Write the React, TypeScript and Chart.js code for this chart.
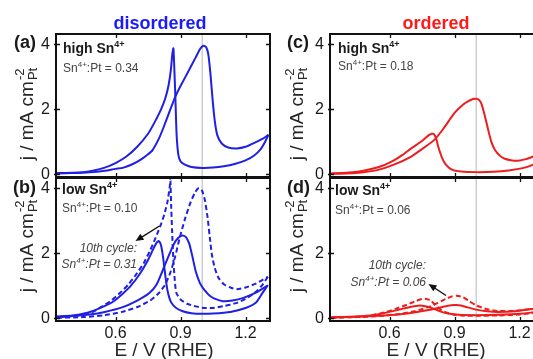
import React, { useEffect, useRef } from 'react';
import { Chart, registerables } from 'chart.js';

Chart.register(...registerables);

const FONT = 'Arial, "Liberation Sans", Helvetica, sans-serif';
const CW = 560;
const CH = 359;

// ---- axes ----
const X_MIN = 0.325;
const X_MAX = 1.313;
const Y_MIN = -0.08;
const Y_MAX = 4.32;
const xTickValues = [0.6, 0.9, 1.2];
const yTickValues = [0, 2, 4];
const refPotential = 1.0;

// ---- texts ----
const columnTitles = ['disordered', 'ordered'];
const panelLetters = ['(a)', '(b)', '(c)', '(d)'];
const panelHeadings = ['high Sn', 'low Sn', 'high Sn', 'low Sn'];
const panelRatios = ['0.34', '0.10', '0.18', '0.06'];
const cycleRatios = ['0.31', '0.06'];
const xAxisTitle = 'E / V (RHE)';

// ---- (a) disordered, high Sn ----
const aFwdE = [0.33, 0.40, 0.45, 0.50, 0.55, 0.60, 0.633, 0.68, 0.72, 0.75, 0.77, 0.80, 0.82, 0.85, 0.875, 0.90, 0.94, 0.97, 0.99, 1.005, 1.018, 1.028, 1.038, 1.048, 1.058, 1.07, 1.09, 1.12, 1.16, 1.20, 1.25, 1.28, 1.306];
const aFwdJ = [0.03, 0.04, 0.05, 0.07, 0.11, 0.17, 0.20, 0.32, 0.47, 0.62, 0.74, 1.10, 1.42, 1.95, 2.38, 2.72, 3.22, 3.60, 3.86, 3.96, 3.92, 3.70, 3.10, 2.30, 1.65, 1.20, 0.95, 0.83, 0.80, 0.85, 1.00, 1.10, 1.22];
const aRevE = [1.306, 1.29, 1.27, 1.24, 1.20, 1.15, 1.10, 1.05, 1.00, 0.95, 0.92, 0.90, 0.89, 0.882, 0.876, 0.871, 0.867, 0.862, 0.855, 0.845, 0.83, 0.81, 0.78, 0.75, 0.70, 0.65, 0.60, 0.55, 0.50, 0.45, 0.40, 0.33];
const aRevJ = [1.22, 1.00, 0.78, 0.58, 0.43, 0.32, 0.25, 0.21, 0.20, 0.23, 0.30, 0.40, 0.60, 1.20, 2.40, 3.30, 3.88, 3.70, 3.20, 2.75, 2.35, 2.00, 1.60, 1.25, 0.85, 0.55, 0.35, 0.21, 0.12, 0.07, 0.05, 0.04];

// ---- (b) disordered, low Sn (solid) and 10th cycle (dashed) ----
const bFwdE = [0.33, 0.40, 0.48, 0.55, 0.63, 0.70, 0.756, 0.79, 0.825, 0.85, 0.87, 0.89, 0.91, 0.925, 0.94, 0.955, 0.97, 0.99, 1.01, 1.035, 1.06, 1.095, 1.14, 1.19, 1.25, 1.303];
const bFwdJ = [0.05, 0.07, 0.12, 0.20, 0.34, 0.55, 0.78, 1.05, 1.60, 2.00, 2.30, 2.48, 2.55, 2.50, 2.30, 1.90, 1.45, 1.08, 0.88, 0.70, 0.60, 0.53, 0.55, 0.63, 0.80, 1.02];
const bRevE = [1.303, 1.28, 1.25, 1.20, 1.13, 1.05, 1.00, 0.95, 0.91, 0.88, 0.856, 0.84, 0.83, 0.82, 0.81, 0.80, 0.79, 0.775, 0.75, 0.71, 0.67, 0.633, 0.59, 0.556, 0.50, 0.45, 0.40, 0.33];
const bRevJ = [1.02, 0.80, 0.50, 0.32, 0.20, 0.15, 0.14, 0.16, 0.22, 0.32, 0.50, 0.85, 1.30, 1.85, 2.25, 2.38, 2.33, 2.15, 1.80, 1.35, 1.00, 0.76, 0.52, 0.40, 0.24, 0.14, 0.09, 0.06];
const bCycFwdE = [0.33, 0.45, 0.55, 0.63, 0.70, 0.76, 0.80, 0.83, 0.855, 0.875, 0.895, 0.92, 0.945, 0.965, 0.98, 0.99, 1.00, 1.012, 1.025, 1.035, 1.045, 1.058, 1.075, 1.10, 1.13, 1.16, 1.20, 1.25, 1.303];
const bCycFwdJ = [0.02, 0.04, 0.10, 0.20, 0.35, 0.55, 0.78, 1.05, 1.45, 1.90, 2.45, 3.05, 3.55, 3.85, 4.00, 4.00, 3.92, 3.65, 3.10, 2.50, 1.95, 1.55, 1.25, 1.05, 0.95, 0.90, 0.95, 1.08, 1.28];
const bCycRevE = [1.303, 1.28, 1.25, 1.20, 1.156, 1.10, 1.05, 1.00, 0.97, 0.93, 0.90, 0.88, 0.872, 0.866, 0.861, 0.857, 0.853, 0.85, 0.84, 0.825, 0.81, 0.795, 0.78, 0.76, 0.73, 0.70, 0.66, 0.62, 0.58, 0.54, 0.50, 0.45, 0.40, 0.33];
const bCycRevJ = [1.28, 1.05, 0.83, 0.60, 0.47, 0.38, 0.32, 0.33, 0.37, 0.45, 0.58, 0.80, 1.30, 1.90, 2.70, 3.40, 4.25, 4.05, 3.60, 3.20, 2.90, 2.65, 2.40, 2.10, 1.70, 1.40, 1.05, 0.78, 0.55, 0.38, 0.22, 0.12, 0.07, 0.04];

// ---- (c) ordered, high Sn ----
const cFwdE = [0.33, 0.40, 0.47, 0.547, 0.62, 0.70, 0.75, 0.808, 0.85, 0.90, 0.94, 0.962, 0.985, 1.00, 1.012, 1.024, 1.04, 1.055, 1.07, 1.086, 1.11, 1.132, 1.165, 1.194, 1.23, 1.263, 1.31];
const cFwdJ = [0.02, 0.03, 0.06, 0.14, 0.30, 0.55, 0.78, 1.07, 1.42, 1.89, 2.15, 2.25, 2.32, 2.33, 2.30, 2.18, 1.80, 1.38, 1.00, 0.76, 0.57, 0.48, 0.43, 0.42, 0.47, 0.55, 0.68];
const cRevE = [1.31, 1.295, 1.263, 1.22, 1.15, 1.08, 1.00, 0.93, 0.89, 0.86, 0.84, 0.825, 0.815, 0.805, 0.795, 0.78, 0.75, 0.70, 0.66, 0.62, 0.58, 0.547, 0.50, 0.45, 0.40, 0.33];
const cRevJ = [0.68, 0.45, 0.30, 0.20, 0.12, 0.08, 0.07, 0.09, 0.14, 0.30, 0.55, 0.85, 1.10, 1.24, 1.25, 1.20, 1.03, 0.80, 0.60, 0.43, 0.30, 0.22, 0.14, 0.08, 0.05, 0.03];

// ---- (d) ordered, low Sn (solid) and 10th cycle (dashed) ----
const dFwdE = [0.33, 0.45, 0.55, 0.65, 0.72, 0.78, 0.83, 0.87, 0.90, 0.93, 0.96, 1.00, 1.05, 1.10, 1.18, 1.27, 1.31];
const dFwdJ = [0.03, 0.05, 0.08, 0.13, 0.19, 0.26, 0.33, 0.39, 0.41, 0.40, 0.34, 0.27, 0.22, 0.20, 0.22, 0.30, 0.34];
const dRevE = [1.31, 1.27, 1.20, 1.10, 1.00, 0.92, 0.87, 0.84, 0.81, 0.78, 0.75, 0.73, 0.70, 0.65, 0.60, 0.55, 0.50, 0.43, 0.33];
const dRevJ = [0.34, 0.20, 0.14, 0.11, 0.10, 0.11, 0.15, 0.20, 0.28, 0.35, 0.39, 0.39, 0.36, 0.28, 0.20, 0.13, 0.08, 0.05, 0.03];
const dCycFwdE = [0.33, 0.45, 0.55, 0.65, 0.72, 0.78, 0.82, 0.86, 0.89, 0.91, 0.94, 0.97, 1.00, 1.05, 1.10, 1.18, 1.27, 1.31];
const dCycFwdJ = [0.02, 0.04, 0.07, 0.14, 0.23, 0.35, 0.47, 0.60, 0.68, 0.70, 0.65, 0.52, 0.40, 0.28, 0.23, 0.23, 0.30, 0.33];
const dCycRevE = [1.31, 1.27, 1.20, 1.10, 1.00, 0.93, 0.88, 0.84, 0.81, 0.79, 0.77, 0.75, 0.72, 0.68, 0.63, 0.58, 0.52, 0.45, 0.33];
const dCycRevJ = [0.33, 0.18, 0.12, 0.09, 0.08, 0.09, 0.14, 0.25, 0.42, 0.55, 0.60, 0.60, 0.53, 0.42, 0.30, 0.19, 0.10, 0.05, 0.02];

const BLUE = '#1f1fe6';
const RED = '#ee1d1d';
const BLUE_TITLE = '#1a1aff';
const RED_TITLE = '#ff1a1a';
const TEXT = '#262626';

type Part = { t: string; size: number; weight?: string; style?: string; dy?: number };
type Series = { e: number[]; j: number[]; dash?: boolean };
type Spec = {
  area: { l: number; t: number; r: number; b: number };
  color: string;
  series: Series[];
  xLabels: boolean;
  letter: string;
  letterPos: [number, number];
  heading: string;
  headPos: [number, number];
  ratio: string;
  ratioPos: [number, number];
  colTitle?: { text: string; x: number; y: number; color: string };
  yTitle: { x: number; y: number };
  xTitle?: { x: number; y: number };
  cycle?: { ratio: string; x: number; y1: number; y2: number; arrow: [number, number, number, number] };
};

const fontOf = (p: Part) => `${p.style || 'normal'} ${p.weight || 'normal'} ${p.size}px ${FONT}`;

function richWidth(ctx: CanvasRenderingContext2D, parts: Part[]) {
  let w = 0;
  for (const p of parts) {
    ctx.font = fontOf(p);
    w += ctx.measureText(p.t).width;
  }
  return w;
}

function drawRich(ctx: CanvasRenderingContext2D, x: number, y: number, parts: Part[], align: 'left' | 'right' | 'center', color: string) {
  const w = richWidth(ctx, parts);
  let cx = align === 'right' ? x - w : align === 'center' ? x - w / 2 : x;
  ctx.fillStyle = color;
  ctx.textAlign = 'left';
  ctx.textBaseline = 'alphabetic';
  for (const p of parts) {
    ctx.font = fontOf(p);
    ctx.fillText(p.t, cx, y + (p.dy || 0));
    cx += ctx.measureText(p.t).width;
  }
}

function drawArrow(ctx: CanvasRenderingContext2D, x1: number, y1: number, x2: number, y2: number) {
  const ang = Math.atan2(y2 - y1, x2 - x1);
  const hl = 8;
  const hw = 3.5;
  ctx.strokeStyle = '#111';
  ctx.fillStyle = '#111';
  ctx.lineWidth = 1.4;
  ctx.beginPath();
  ctx.moveTo(x1, y1);
  ctx.lineTo(x2 - Math.cos(ang) * hl * 0.8, y2 - Math.sin(ang) * hl * 0.8);
  ctx.stroke();
  ctx.beginPath();
  ctx.moveTo(x2, y2);
  ctx.lineTo(x2 - Math.cos(ang) * hl - Math.sin(ang) * hw, y2 - Math.sin(ang) * hl + Math.cos(ang) * hw);
  ctx.lineTo(x2 - Math.cos(ang) * hl + Math.sin(ang) * hw, y2 - Math.sin(ang) * hl - Math.cos(ang) * hw);
  ctx.closePath();
  ctx.fill();
}

function drawYTitle(ctx: CanvasRenderingContext2D, x: number, y: number) {
  const main = 'j / mA cm';
  const mainFont = `normal normal 19px ${FONT}`;
  const scriptFont = `normal normal 13px ${FONT}`;
  ctx.save();
  ctx.translate(x, y);
  ctx.rotate(-Math.PI / 2);
  ctx.font = mainFont;
  const mw = ctx.measureText(main).width;
  ctx.font = scriptFont;
  const sw = Math.max(ctx.measureText('-2').width, ctx.measureText('Pt').width);
  const start = -(mw + sw + 1) / 2;
  ctx.fillStyle = TEXT;
  ctx.textAlign = 'left';
  ctx.textBaseline = 'alphabetic';
  ctx.font = mainFont;
  ctx.fillText(main, start, 0);
  ctx.font = scriptFont;
  ctx.fillText('-2', start + mw + 1, -9);
  ctx.fillText('Pt', start + mw + 1, 4);
  ctx.restore();
}

const zip = (e: number[], j: number[]) => e.map((v, i) => ({ x: v, y: j[i] }));

const panels: Spec[] = [
  {
    area: { l: 56, t: 34, r: 270, b: 177 },
    color: BLUE,
    series: [{ e: aFwdE, j: aFwdJ }, { e: aRevE, j: aRevJ }],
    xLabels: false,
    letter: panelLetters[0], letterPos: [14, 48],
    heading: panelHeadings[0], headPos: [63, 53],
    ratio: panelRatios[0], ratioPos: [63, 72],
    colTitle: { text: columnTitles[0], x: 160, y: 29, color: BLUE_TITLE },
    yTitle: { x: 33, y: 114 },
  },
  {
    area: { l: 56, t: 178, r: 270, b: 321 },
    color: BLUE,
    series: [
      { e: bFwdE, j: bFwdJ }, { e: bRevE, j: bRevJ },
      { e: bCycFwdE, j: bCycFwdJ, dash: true }, { e: bCycRevE, j: bCycRevJ, dash: true },
    ],
    xLabels: true,
    letter: panelLetters[1], letterPos: [13, 193],
    heading: panelHeadings[1], headPos: [62, 194],
    ratio: panelRatios[1], ratioPos: [62, 212],
    yTitle: { x: 33, y: 246 },
    xTitle: { x: 164, y: 356 },
    cycle: { ratio: cycleRatios[0], x: 137, y1: 251.5, y2: 268, arrow: [159.5, 226, 135.5, 241] },
  },
  {
    area: { l: 330, t: 34, r: 544, b: 177 },
    color: RED,
    series: [{ e: cFwdE, j: cFwdJ }, { e: cRevE, j: cRevJ }],
    xLabels: false,
    letter: panelLetters[2], letterPos: [287, 48],
    heading: panelHeadings[2], headPos: [338, 53],
    ratio: panelRatios[2], ratioPos: [338, 70],
    colTitle: { text: columnTitles[1], x: 436, y: 29, color: RED_TITLE },
    yTitle: { x: 303, y: 114 },
  },
  {
    area: { l: 330, t: 178, r: 544, b: 321 },
    color: RED,
    series: [
      { e: dFwdE, j: dFwdJ }, { e: dRevE, j: dRevJ },
      { e: dCycFwdE, j: dCycFwdJ, dash: true }, { e: dCycRevE, j: dCycRevJ, dash: true },
    ],
    xLabels: true,
    letter: panelLetters[3], letterPos: [287, 193],
    heading: panelHeadings[3], headPos: [335, 195],
    ratio: panelRatios[3], ratioPos: [335, 213.5],
    yTitle: { x: 303, y: 246 },
    xTitle: { x: 436, y: 356 },
    cycle: { ratio: cycleRatios[1], x: 426, y1: 269, y2: 286, arrow: [446, 295.5, 428.5, 284] },
  },
];

function makePlugin(spec: Spec) {
  return {
    id: 'panelDecor',
    beforeDatasetsDraw(chart: any) {
      const { ctx, chartArea: ca } = chart;
      const px = chart.scales.x.getPixelForValue(refPotential);
      ctx.save();
      ctx.strokeStyle = '#c4c4c4';
      ctx.lineWidth = 1.2;
      ctx.beginPath();
      ctx.moveTo(px, ca.top);
      ctx.lineTo(px, ca.bottom);
      ctx.stroke();
      ctx.restore();
    },
    afterDatasetsDraw(chart: any) {
      const { ctx, chartArea: ca } = chart;
      const xs = chart.scales.x;
      const ys = chart.scales.y;
      ctx.save();
      ctx.strokeStyle = '#111';
      ctx.lineWidth = 1.3;
      const tl = 4;
      ctx.beginPath();
      for (const v of xTickValues) {
        const p = Math.round(xs.getPixelForValue(v)) + 0.5;
        ctx.moveTo(p, ca.bottom + 1); ctx.lineTo(p, ca.bottom - tl);
        ctx.moveTo(p, ca.top - 1); ctx.lineTo(p, ca.top + tl);
      }
      for (const v of yTickValues) {
        const p = Math.round(ys.getPixelForValue(v)) + 0.5;
        ctx.moveTo(ca.left - 2, p); ctx.lineTo(ca.left + tl, p);
        ctx.moveTo(ca.right + 1, p); ctx.lineTo(ca.right - tl, p);
      }
      ctx.stroke();
      ctx.lineWidth = 2;
      ctx.strokeRect(ca.left, ca.top, ca.right - ca.left, ca.bottom - ca.top);
      ctx.restore();
    },
    afterDraw(chart: any) {
      const ctx: CanvasRenderingContext2D = chart.ctx;
      ctx.save();
      if (spec.colTitle) {
        drawRich(ctx, spec.colTitle.x, spec.colTitle.y, [{ t: spec.colTitle.text, size: 18, weight: 'bold' }], 'center', spec.colTitle.color);
      }
      drawRich(ctx, spec.letterPos[0], spec.letterPos[1], [{ t: spec.letter, size: 18, weight: 'bold' }], 'left', '#1a1a1a');
      drawRich(ctx, spec.headPos[0], spec.headPos[1], [
        { t: spec.heading, size: 14, weight: 'bold' },
        { t: '4+', size: 9, weight: 'bold', dy: -6 },
      ], 'left', '#1a1a1a');
      drawRich(ctx, spec.ratioPos[0], spec.ratioPos[1], [
        { t: 'Sn', size: 12 },
        { t: '4+', size: 8, dy: -5 },
        { t: ':Pt = ' + spec.ratio, size: 12 },
      ], 'left', '#444');
      if (spec.cycle) {
        const c = spec.cycle;
        drawRich(ctx, c.x, c.y1, [{ t: '10th cycle:', size: 12, style: 'italic' }], 'right', '#444');
        drawRich(ctx, c.x, c.y2, [
          { t: 'Sn', size: 12, style: 'italic' },
          { t: '4+', size: 8, style: 'italic', dy: -5 },
          { t: ':Pt = ' + c.ratio, size: 12, style: 'italic' },
        ], 'right', '#444');
        drawArrow(ctx, c.arrow[0], c.arrow[1], c.arrow[2], c.arrow[3]);
      }
      drawYTitle(ctx, spec.yTitle.x, spec.yTitle.y);
      if (spec.xTitle) {
        drawRich(ctx, spec.xTitle.x, spec.xTitle.y, [{ t: xAxisTitle, size: 19 }], 'center', TEXT);
      }
      ctx.restore();
    },
  };
}

function buildChart(canvas: HTMLCanvasElement, spec: Spec) {
  const { l, t, r, b } = spec.area;
  const xh = spec.xLabels ? 30 : 0;
  const yw = 56;
  return new Chart(canvas, {
    type: 'scatter',
    data: {
      datasets: spec.series.map((s) => ({
        data: zip(s.e, s.j),
        showLine: true,
        borderColor: spec.color,
        backgroundColor: spec.color,
        borderWidth: 2,
        borderDash: s.dash ? [5, 3] : [],
        pointRadius: 0,
        tension: 0.2,
        fill: false,
      })),
    },
    options: {
      responsive: false,
      animation: false,
      events: [],
      layout: { padding: { left: l - yw, top: t, right: CW - r, bottom: CH - b - xh } },
      plugins: { legend: { display: false }, tooltip: { enabled: false }, title: { display: false } },
      scales: {
        x: {
          type: 'linear',
          min: X_MIN,
          max: X_MAX,
          grid: { display: false, drawTicks: false },
          border: { display: false },
          ticks: { display: spec.xLabels, font: { size: 16, family: FONT }, color: '#1a1a1a', padding: 3, autoSkip: false, maxRotation: 0 },
          afterBuildTicks: (s: any) => { s.ticks = xTickValues.map((v) => ({ value: v })); },
          afterFit: (s: any) => { s.height = xh; },
        },
        y: {
          type: 'linear',
          min: Y_MIN,
          max: Y_MAX,
          grid: { display: false, drawTicks: false },
          border: { display: false },
          ticks: { font: { size: 16, family: FONT }, color: '#1a1a1a', padding: 6, autoSkip: false },
          afterBuildTicks: (s: any) => { s.ticks = yTickValues.map((v) => ({ value: v })); },
          afterFit: (s: any) => { s.width = yw; },
        },
      },
    } as any,
    plugins: [makePlugin(spec)],
  });
}

function Panel({ spec }: { spec: Spec }) {
  const ref = useRef<HTMLCanvasElement>(null);
  useEffect(() => {
    if (!ref.current) return;
    const chart = buildChart(ref.current, spec);
    return () => chart.destroy();
  }, [spec]);
  return <canvas ref={ref} width={CW} height={CH} style={{ position: 'absolute', left: 0, top: 0, width: CW, height: CH }} />;
}

export default function App() {
  return (
    <div style={{ position: 'absolute', left: 0, top: 0, width: 533, height: 359, overflow: 'hidden', background: '#fff' }}>
      {panels.map((p, i) => <Panel key={i} spec={p} />)}
    </div>
  );
}
